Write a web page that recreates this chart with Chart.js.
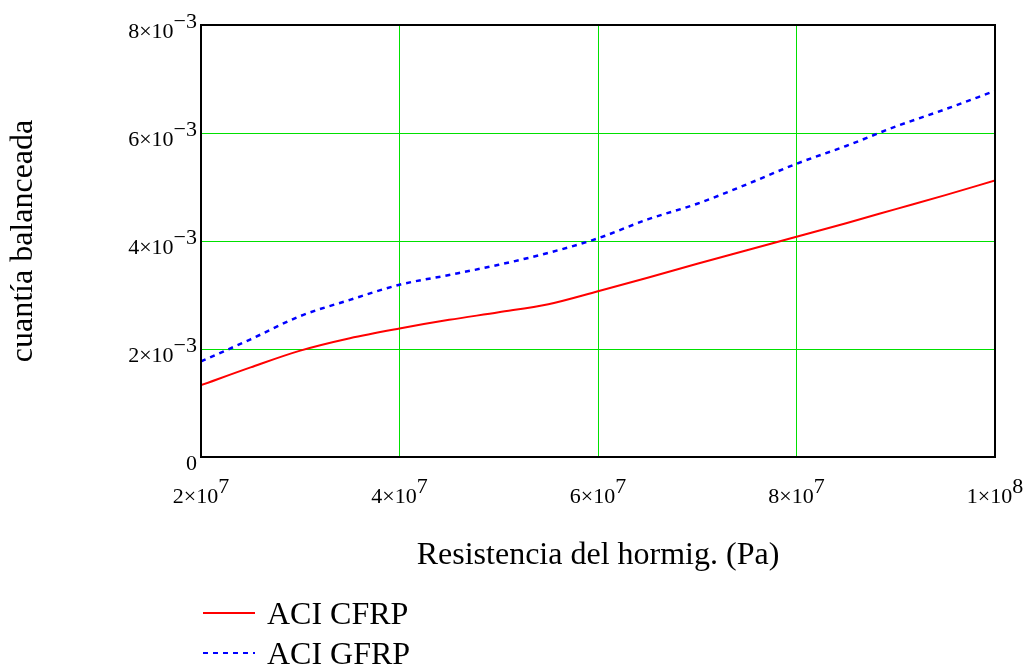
<!DOCTYPE html>
<html>
<head>
<meta charset="utf-8">
<script src="https://cdn.jsdelivr.net/npm/chart.js@4/dist/chart.umd.min.js"></script>
<style>
  html, body { margin: 0; padding: 0; background: #ffffff; }
  #wrap { width: 1031px; height: 667px; }
</style>
</head>
<body>
<div id="wrap"><canvas id="rhoChart" width="1031" height="667"></canvas></div>
<script>
// Concrete strength (Pa)
const resistencia = [2e7, 2.5e7, 3e7, 3.5e7, 4e7, 4.5e7, 5e7, 5.5e7, 6e7,
                     6.5e7, 7e7, 7.5e7, 8e7, 8.5e7, 9e7, 9.5e7, 1e8];

// Balanced reinforcement ratio
const aciCFRP = [1.33e-3, 1.66e-3, 1.97e-3, 2.20e-3, 2.38e-3, 2.54e-3, 2.68e-3, 2.83e-3, 3.07e-3,
                 3.32e-3, 3.58e-3, 3.83e-3, 4.08e-3, 4.33e-3, 4.59e-3, 4.85e-3, 5.12e-3];
const aciGFRP = [1.77e-3, 2.18e-3, 2.61e-3, 2.91e-3, 3.19e-3, 3.37e-3, 3.56e-3, 3.78e-3, 4.05e-3,
                 4.40e-3, 4.69e-3, 5.05e-3, 5.43e-3, 5.76e-3, 6.12e-3, 6.44e-3, 6.78e-3];

// Tick labels: mantissa part and exponent (drawn as superscript)
const xTickValues = [2e7, 4e7, 6e7, 8e7, 1e8];
const xTickBase = ["2×10", "4×10", "6×10", "8×10", "1×10"];
const xTickExp = ["7", "7", "7", "7", "8"];
const yTickValues = [0, 2e-3, 4e-3, 6e-3, 8e-3];
const yTickBase = ["0", "2×10", "4×10", "6×10", "8×10"];
const yTickExp = ["", "−3", "−3", "−3", "−3"];

const serif = "'Liberation Serif', 'Times New Roman', serif";
const gridGreen = "#00e000";

// Tick labels with real superscripts, placed with the scales' own pixels
const tickLabelPlugin = {
    id: "tickLabels",
    afterDraw(chart) {
        const { ctx, chartArea } = chart;
        const xs = chart.scales.x, ys = chart.scales.y;
        ctx.save();
        ctx.font = "22px " + serif;
        ctx.fillStyle = "#000000";
        ctx.textAlign = "left";
        ctx.textBaseline = "alphabetic";

        xTickValues.forEach((v, i) => {
            const px = xs.getPixelForValue(v);
            const wb = ctx.measureText(xTickBase[i]).width;
            const we = ctx.measureText(xTickExp[i]).width;
            const x0 = px - (wb + we) / 2;
            const base = chartArea.bottom + 46;
            ctx.fillText(xTickBase[i], x0, base);
            ctx.fillText(xTickExp[i], x0 + wb, base - 10);
        });

        yTickValues.forEach((v, i) => {
            const py = ys.getPixelForValue(v);
            const wb = ctx.measureText(yTickBase[i]).width;
            const we = ctx.measureText(yTickExp[i]).width;
            const x0 = chartArea.left - 4 - (wb + we);
            const base = py + 13;
            ctx.fillText(yTickBase[i], x0, base);
            ctx.fillText(yTickExp[i], x0 + wb, base - 10);
        });
        ctx.restore();
    }
};

// Frame around the plot + legend below the x title
const frameLegendPlugin = {
    id: "frameAndLegend",
    afterDatasetsDraw(chart) {
        const { ctx, chartArea } = chart;
        ctx.save();
        ctx.strokeStyle = "#000000";
        ctx.lineWidth = 2;
        ctx.strokeRect(chartArea.left, chartArea.top,
                       chartArea.right - chartArea.left, chartArea.bottom - chartArea.top);

        ctx.font = "32px " + serif;
        ctx.fillStyle = "#000000";
        ctx.textBaseline = "alphabetic";
        chart.data.datasets.forEach((ds, i) => {
            const y = 613 + i * 40;
            ctx.strokeStyle = ds.borderColor;
            ctx.lineWidth = 2;
            ctx.setLineDash(ds.borderDash || []);
            ctx.beginPath();
            ctx.moveTo(203, y);
            ctx.lineTo(255, y);
            ctx.stroke();
            ctx.setLineDash([]);
            ctx.fillText(ds.label, 267, y + 11);
        });
        ctx.restore();
    }
};

new Chart(document.getElementById("rhoChart").getContext("2d"), {

    type: "line",

    data: {
        datasets: [
            {
                label: "ACI CFRP",
                data: resistencia.map((x, i) => ({ x: x, y: aciCFRP[i] })),
                borderColor: "#ff0000",
                borderWidth: 2,
                pointRadius: 0,
                cubicInterpolationMode: "monotone"
            },
            {
                label: "ACI GFRP",
                data: resistencia.map((x, i) => ({ x: x, y: aciGFRP[i] })),
                borderColor: "#0000ff",
                borderWidth: 2.5,
                borderDash: [5, 5],
                pointRadius: 0,
                cubicInterpolationMode: "monotone"
            }
        ]
    },

    options: {
        responsive: false,
        animation: false,
        layout: {
            padding: { left: 0, right: 36, top: 25, bottom: 92 }
        },
        plugins: {
            legend: { display: false },
            tooltip: { enabled: false }
        },
        scales: {
            x: {
                type: "linear",
                min: 2e7,
                max: 1e8,
                afterBuildTicks(scale) {
                    scale.ticks = xTickValues.map(v => ({ value: v }));
                },
                afterFit(scale) {
                    scale.height = 118;
                    scale.paddingLeft = 0;
                    scale.paddingRight = 0;
                },
                grid: { color: gridGreen, lineWidth: 1, drawTicks: false },
                border: { display: false },
                ticks: { display: false },
                title: {
                    display: true,
                    text: "Resistencia del hormig. (Pa)",
                    color: "#000000",
                    font: { family: serif, size: 32 },
                    padding: 0
                }
            },
            y: {
                type: "linear",
                min: 0,
                max: 8e-3,
                afterBuildTicks(scale) {
                    scale.ticks = yTickValues.map(v => ({ value: v }));
                },
                afterFit(scale) {
                    scale.width = 201;
                    scale.paddingTop = 0;
                    scale.paddingBottom = 0;
                },
                grid: { color: gridGreen, lineWidth: 1, drawTicks: false },
                border: { display: false },
                ticks: { display: false },
                title: {
                    display: true,
                    text: "cuantía balanceada",
                    color: "#000000",
                    font: { family: serif, size: 32 },
                    padding: { top: 4, bottom: 0 }
                }
            }
        }
    },

    plugins: [frameLegendPlugin, tickLabelPlugin]

});
</script>
</body>
</html>
